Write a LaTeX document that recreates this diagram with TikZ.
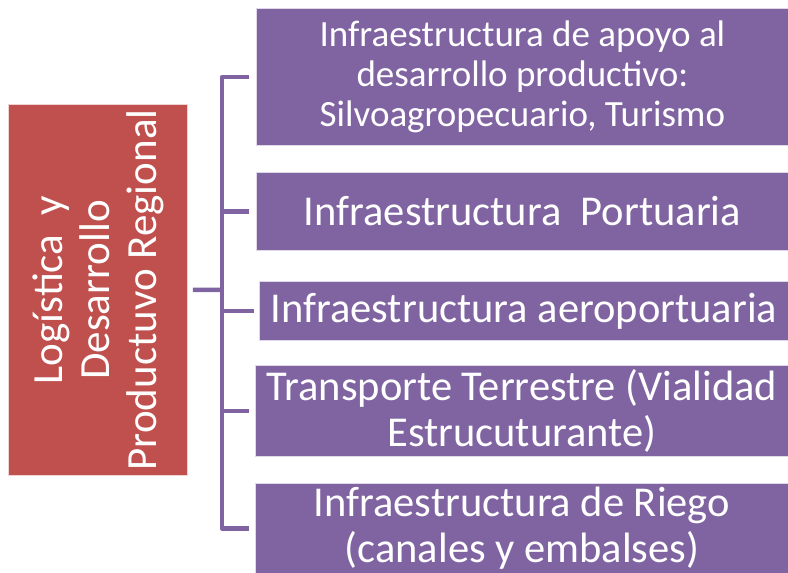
\documentclass[tikz,border=0pt]{standalone}
\usepackage{fontspec}
\setmainfont{Carlito}
\definecolor{cred}{HTML}{C0504D}
\definecolor{cpurple}{HTML}{8064A2}
\begin{document}
\begin{tikzpicture}[x=1pt,y=-1pt,
  box/.style={fill=cpurple, draw=white!75!cpurple, line width=0.8pt, anchor=north west, text=white, align=center, inner sep=0pt, font=\fontsize{42.5}{46}\selectfont},
  redbox/.style={fill=cred, draw=white!75!cred, line width=0.8pt, anchor=north west, inner sep=0pt},
  conn/.style={draw=cpurple, line width=4.5pt, line join=round}]
\useasboundingbox (0,0) rectangle (788,573);
\node[redbox, minimum width=179pt, minimum height=371pt] (red) at (8,104) {};
\node[rotate=90, text=white, align=center, font=\fontsize{43}{47}\selectfont] (redtxt) at (red.center) {Logística\ \ y\\Desarrollo\\Productuvo Regional};
\node[box, minimum width=532pt, minimum height=137pt, font=\fontsize{37}{40}\selectfont] (b1) at (256,8) {Infraestructura de apoyo al\\desarrollo productivo:\\Silvoagropecuario, Turismo};
\node[box, minimum width=532pt, minimum height=78pt] (b2) at (256,172) {Infraestructura\ \ Portuaria};
\node[box, minimum width=529pt, minimum height=59pt] (b3) at (259,281) {Infraestructura aeroportuaria};
\node[box, minimum width=533pt, minimum height=91pt] (b4) at (255,365) {Transporte Terrestre (Vialidad\\Estrucuturante)};
\node[box, minimum width=533pt, minimum height=90pt] (b5) at (255,483) {Infraestructura de Riego\\(canales y embalses)};
\coordinate (sp) at (222,290);
\draw[conn] ([xshift=-7pt]b1.west) -| (sp) |- ([xshift=-6pt]b5.west);
\draw[conn] (sp |- b2.west) -- ([xshift=-7pt]b2.west);
\draw[conn] (sp |- b3.west) -- ([xshift=-5pt]b3.west);
\draw[conn] (sp |- b4.west) -- ([xshift=-6pt]b4.west);
\draw[conn] ([xshift=5pt]red.east) -- (sp);
\end{tikzpicture}
\end{document}
